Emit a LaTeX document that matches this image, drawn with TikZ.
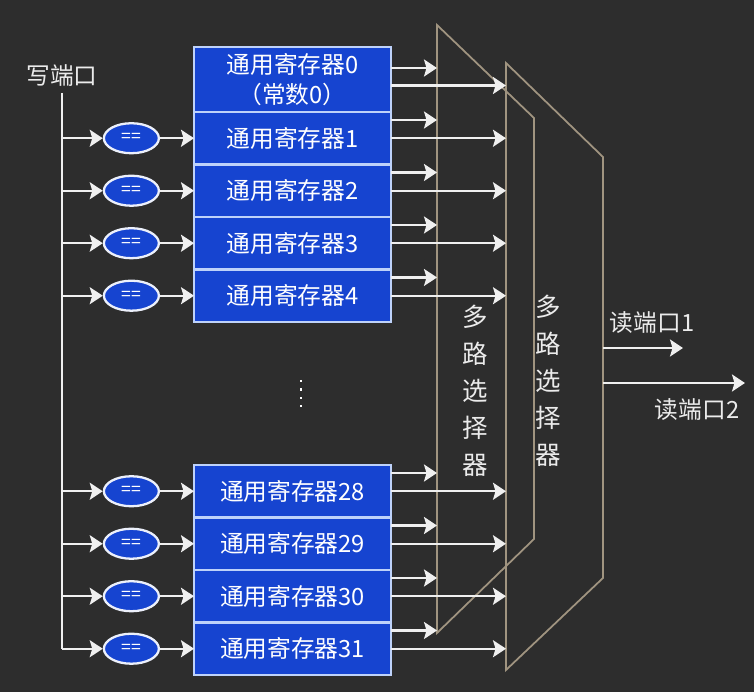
\documentclass[tikz,border=0pt]{standalone}
\usepackage{fontspec}
\setmainfont{Noto Sans CJK SC}
\definecolor{bgdark}{RGB}{45,45,45}
\definecolor{regblue}{RGB}{22,68,208}
\definecolor{regedge}{RGB}{190,210,250}
\definecolor{muxtan}{RGB}{160,148,128}
\usetikzlibrary{arrows.meta, positioning, shapes.geometric, calc}
\tikzset{
	reg/.style={rectangle, draw=regedge, fill=regblue, line width=1.2pt, align=center, minimum width=3.94cm, minimum height=1.05cm, inner sep=0pt, outer sep=0pt, text=white, font=\fontsize{13.5}{17}\selectfont},
	cmp/.style={ellipse, draw=white!92!regblue, fill=regblue, line width=1.3pt, minimum width=1.1cm, minimum height=0.6cm, inner sep=0pt, text=white, font=\normalsize},
	lbl/.style={text=white!92!black, font=\fontsize{13.5}{17}\selectfont},
	muxlbl/.style={text=white!92!black, align=center, font=\fontsize{14.5}{21}\selectfont},
	mux/.style={draw=muxtan, line width=1pt},
	arrow/.style={-{Stealth[length=2.6mm, width=3.4mm, inset=0.5mm]}, line width=1.2pt, draw=white!94!black},
	wire/.style={line width=1.2pt, draw=white!94!black},
}

\begin{document}
\begin{tikzpicture}[x=0.02cm, y=-0.02cm, node distance=0.68cm]
	\fill[bgdark] (0,0) rectangle (754,692);
	\node[reg, minimum height=1.3cm] (reg0) at (292.5,79.5) {通用寄存器0\\（常数0）};
	\node[reg, below=0pt of reg0] (reg1) {通用寄存器1};
	\node[reg, below=0pt of reg1] (reg2) {通用寄存器2};
	\node[reg, below=0pt of reg2] (reg3) {通用寄存器3};
	\node[reg, below=0pt of reg3] (reg4) {通用寄存器4};
	\node[reg] (reg28) at (292.5,491.25) {通用寄存器28};
	\node[reg, below=0pt of reg28] (reg29) {通用寄存器29};
	\node[reg, below=0pt of reg29] (reg30) {通用寄存器30};
	\node[reg, below=0pt of reg30] (reg31) {通用寄存器31};
	\foreach \r in {1,2,3,4,28,29,30,31}
		\node[cmp, left=of reg\r] (eq\r) {==};
	\node[lbl] (wport) at (62,76) {写端口};
	\coordinate (wtop) at (62,93);
	\draw[wire] (wtop) -- (wtop |- eq31);
	\foreach \r in {1,2,3,4,28,29,30,31}{
		\draw[arrow] (wtop |- eq\r) -- (eq\r);
		\draw[arrow] (eq\r) -- (reg\r);
	}
	\coordinate (gap) at (301,380);
	\draw[white, line width=1.2pt, dash pattern=on 1.2pt off 3.6pt] (gap) -- ++(0,33);
	\coordinate (m1a) at (437,25);
	\coordinate (m1b) at (534,118);
	\coordinate (m1c) at (534,539);
	\coordinate (m1d) at (437,633);
	\coordinate (m2a) at (506,63);
	\coordinate (m2b) at (603,157);
	\coordinate (m2c) at (603,578);
	\coordinate (m2d) at (506,670);
	\draw[mux] (m1a) -- (m1b) -- (m1c) -- (m1d) -- cycle;
	\draw[mux] (m2a) -- (m2b) -- (m2c) -- (m2d) -- cycle;
	\path ($(reg0.north east)+(0,21)$) coordinate (up0) ($(reg0.east)+(0,6)$) coordinate (lo0);
	\foreach \r in {1,2,3,4,28,29,30,31}
		\path ($(reg\r.north east)+(0,8)$) coordinate (up\r) (reg\r.east) coordinate (lo\r);
	\foreach \r in {0,1,2,3,4,28,29,30,31}{
		\draw[arrow] (up\r) -- (up\r -| m1a);
		\draw[arrow] (lo\r) -- (lo\r -| m2a);
	}
	\node[muxlbl] (sel1) at (475,391) {多\\路\\选\\择\\器};
	\node[muxlbl] (sel2) at (548,381) {多\\路\\选\\择\\器};
	\coordinate (out1) at (683,348);
	\coordinate (out2) at (745,383);
	\draw[arrow] (out1 -| m2b) -- (out1);
	\draw[arrow] (out2 -| m2b) -- (out2);
	\node[lbl] (rport1) at (652,323) {读端口1};
	\node[lbl] (rport2) at (697,410) {读端口2};
\end{tikzpicture}
\end{document}
